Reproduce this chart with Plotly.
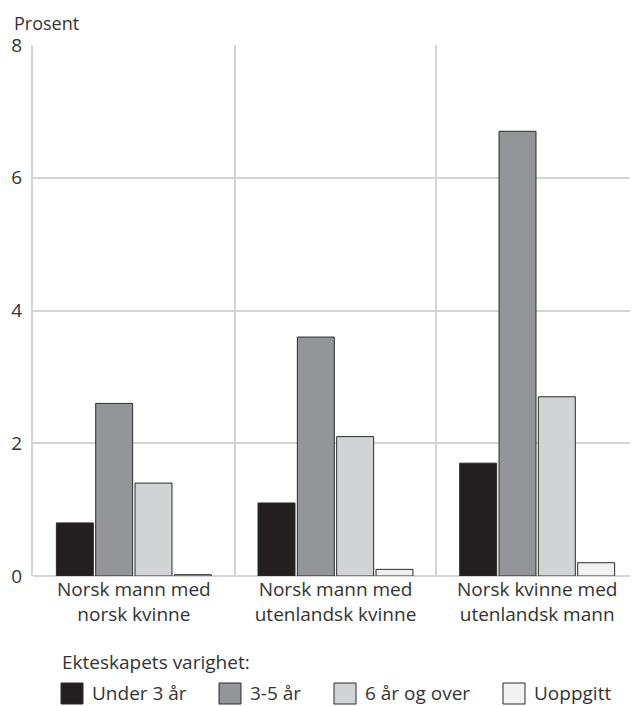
import plotly.graph_objects as go

categories = ["Norsk mann med<br>norsk kvinne", "Norsk mann med<br>utenlandsk kvinne", "Norsk kvinne med<br>utenlandsk mann"]
series_names = ["Under 3 år", "3-5 år", "6 år og over", "Uoppgitt"]
under3 = [0.8, 1.1, 1.7]
aar35 = [2.6, 3.6, 6.7]
aar6 = [1.4, 2.1, 2.7]
uoppgitt = [0.02, 0.1, 0.2]
values = [under3, aar35, aar6, uoppgitt]
colors = ["#231f20", "#939598", "#d1d3d4", "#f1f1f2"]
y_ticks = [0, 2, 4, 6, 8]
legend_title = "Ekteskapets varighet:"

OFF = 8  # page body margin
W, H = 638 - OFF, 706 - OFF
# plot area in page pixels: x 33..638, y 45..576
L, R, T, B = 33 - OFF, 0, 45 - OFF, 706 - 576
FONT = "Open Sans, Noto Sans, sans-serif"
TXT = "#333333"
GRID = "#d4d4d4"
FS = 19

pw, ph = W - L - R, H - T - B


def px(x):
    # page x -> paper
    return (x - OFF - L) / pw


def py(y):
    # page y -> paper
    return (H - B - (y - OFF)) / ph


fig = go.Figure()
for name, vals, col in zip(series_names, values, colors):
    fig.add_trace(go.Bar(
        x=categories, y=vals, name=name, showlegend=False,
        marker=dict(color=col, line=dict(color="#2a2a2a", width=1)),
    ))

annotations = [dict(
    text="Prosent", xref="paper", yref="paper", x=px(12), y=py(8.5),
    xanchor="left", yanchor="top", showarrow=False,
    font=dict(size=18, color=TXT, family=FONT),
), dict(
    text=legend_title, xref="paper", yref="paper", x=px(60), y=py(662),
    xanchor="left", yanchor="middle", showarrow=False,
    font=dict(size=FS, color=TXT, family=FONT),
)]
shapes = []
sq_x = [61, 219, 334, 503]
for name, col, sx in zip(series_names, colors, sq_x):
    shapes.append(dict(
        type="rect", xref="paper", yref="paper",
        x0=px(sx), x1=px(sx + 22), y0=py(704), y1=py(683),
        fillcolor=col, line=dict(color="#2a2a2a", width=1),
    ))
    annotations.append(dict(
        text=name, xref="paper", yref="paper", x=px(sx + 29), y=py(693),
        xanchor="left", yanchor="middle", showarrow=False,
        font=dict(size=FS, color=TXT, family=FONT),
    ))

fig.update_layout(
    width=W, height=H,
    margin=dict(l=L, r=R, t=T, b=B, pad=0),
    paper_bgcolor="white", plot_bgcolor="white",
    barmode="group", bargap=0.22, bargroupgap=0.06,
    font=dict(family=FONT, size=FS, color=TXT),
    showlegend=False,
    annotations=annotations,
    shapes=shapes,
)
fig.update_xaxes(
    type="category", tickson="boundaries", showgrid=True, gridcolor=GRID, gridwidth=2,
    showline=False, ticks="", ticklen=0, range=[-0.5, 2.5], automargin=False,
    tickfont=dict(size=FS, color=TXT),
)
fig.update_yaxes(
    range=[0, 8], tickvals=y_ticks, showgrid=True, gridcolor=GRID, gridwidth=2,
    zeroline=True, zerolinecolor=GRID, zerolinewidth=2,
    showline=True, linecolor=GRID, linewidth=2, automargin=False,
    ticks="", ticklabelstandoff=5, tickfont=dict(size=FS, color=TXT),
)

fig.write_html("out.html", config={"displayModeBar": False})
